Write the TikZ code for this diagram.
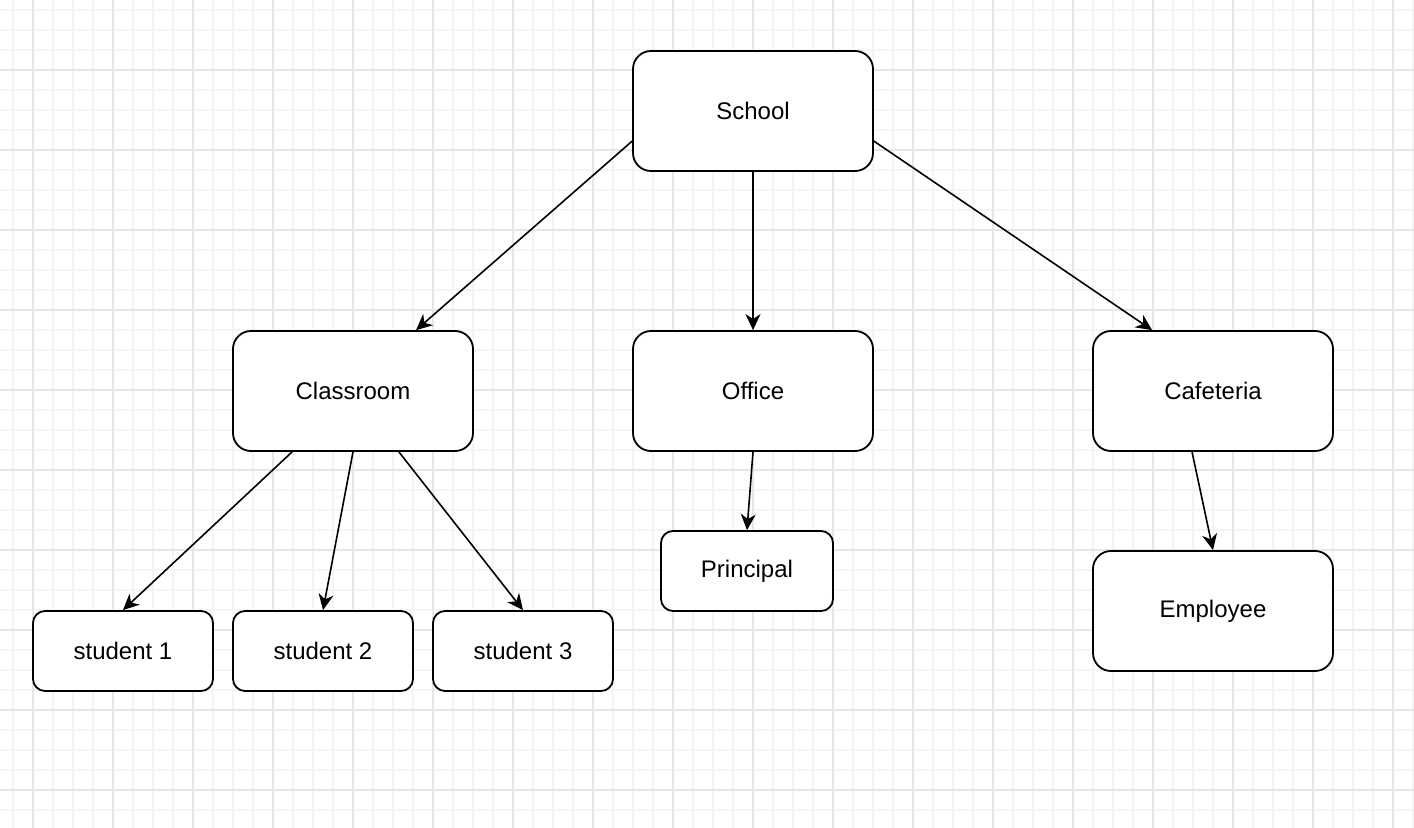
\documentclass[tikz,border=0pt]{standalone}
\usepackage{fontspec}
\setmainfont{Liberation Sans}
\usetikzlibrary{arrows.meta}
\definecolor{gridminor}{HTML}{F4F4F4}
\definecolor{gridmajor}{HTML}{E6E6E6}
\tikzset{
	box/.style={draw,rounded corners=9pt,line width=0.9pt,fill=white,minimum width=120pt,minimum height=60pt,inner sep=0pt,font=\fontsize{12}{14}\selectfont},
	smallbox/.style={box,rounded corners=6pt,minimum width=90pt,minimum height=40pt},
	link/.style={-{Stealth[length=8pt,width=7.5pt,inset=2.5pt]},line width=0.8pt}
}
\begin{document}
\begin{tikzpicture}[x=0.5pt,y=-0.5pt]
	\useasboundingbox (0,0) rectangle (1414,828);
	\fill[white] (0,0) rectangle (1414,828);
	%
	\foreach \gx in {13,33,...,1413} \draw[gridminor,line width=0.6pt] (\gx,0) -- (\gx,828);
	\foreach \gy in {10,30,...,820} \draw[gridminor,line width=0.6pt] (0,\gy) -- (1414,\gy);
	\foreach \gx in {33,113,...,1413} \draw[gridmajor,line width=0.6pt] (\gx,0) -- (\gx,828);
	\foreach \gy in {70,150,...,820} \draw[gridmajor,line width=0.6pt] (0,\gy) -- (1414,\gy);
	%
	\node[box] (school)    at (753,111)  {School};
	\node[box] (classroom) at (353,391)  {Classroom};
	\node[box] (office)    at (753,391)  {Office};
	\node[box] (cafeteria) at (1213,391) {Cafeteria};
	\node[smallbox] (student1) at (123,651) {student 1};
	\node[smallbox] (student2) at (323,651) {student 2};
	\node[smallbox] (student3) at (523,651) {student 3};
	\node[smallbox,minimum width=86pt] (principal) at (747,571) {Principal};
	\node[box] (employee)  at (1213,611) {Employee};
	%
	\draw[link] (school.194) -- (classroom.44);
	\draw[link] (school.south) -- (office.north);
	\draw[link] (school.346) -- (cafeteria.135.5);
	%
	\draw[link] (classroom.225) -- (student1.north);
	\draw[link] (classroom.south) -- (student2.north);
	\draw[link] (classroom.307.5) -- (student3.north);
	%
	\draw[link] (office.south) -- (principal.north);
	%
	\draw[link] (cafeteria.251.6) -- (employee.north);
\end{tikzpicture}
\end{document}
